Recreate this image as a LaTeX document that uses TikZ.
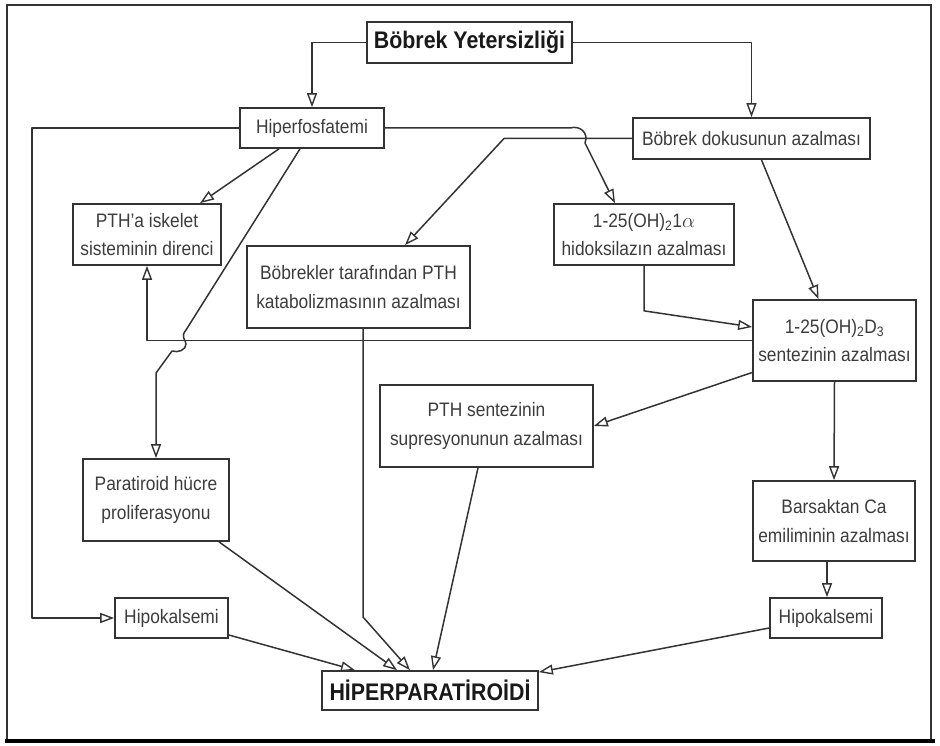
\documentclass[tikz,border=0pt]{standalone}
\usepackage{fontspec}
\setmainfont{Liberation Sans}[FakeStretch=0.89]
\usetikzlibrary{arrows.meta}
\definecolor{ln}{HTML}{333333}
\definecolor{tx}{HTML}{3C3C3C}
\begin{document}
\begin{tikzpicture}[x=1pt,y=-1pt,
  box/.style={draw=ln, line width=1.7pt, inner sep=0pt, align=center,
    font=\fontsize{19.5}{28.5}\selectfont, text=tx},
  bbox/.style={box, font=\fontsize{24}{28}\selectfont\bfseries, text=black!90},
  sz/.style 2 args={minimum width=#1, minimum height=#2},
  con/.style={draw=ln, line width=1.5pt, line join=round,
    -{Triangle[open,length=14pt,width=10pt,line width=1.4pt]}},
  ]
\useasboundingbox (0,0) rectangle (940,746);
\draw[draw=ln, line width=1.5pt] (7,5) rectangle (931,740);
\draw[black, line width=4pt] (5,741) -- (935,741);

\node[bbox, sz={205pt}{41pt}] (by) at (469.5,42.5) {Böbrek Yetersizliği};
\node[box, sz={144pt}{40pt}] (hf) at (312,128) {Hiperfosfatemi};
\node[box, sz={237pt}{41pt}] (bd) at (751.5,138.5) {Böbrek dokusunun azalması};
\node[box, sz={148pt}{61pt}] (pi) at (147,234.5) {PTH'a iskelet\\sisteminin direnci};
\node[box, sz={223pt}{82pt}] (bt) at (358.5,287) {Böbrekler tarafından PTH\\katabolizmasının azalması};
\node[box, sz={180pt}{61pt}] (hk) at (644,234.5) {1-25(OH)\textsubscript{2}1$\alpha$\\hidoksilazın azalması};
\node[box, sz={163pt}{81pt}] (d3) at (834.5,340.5) {1-25(OH)\textsubscript{2}D\textsubscript{3}\\sentezinin azalması};
\node[box, sz={213pt}{82pt}] (ps) at (486.5,426) {PTH sentezinin\\supresyonunun azalması};
\node[box, sz={146pt}{82pt}] (pc) at (156,500) {Paratiroid hücre\\proliferasyonu};
\node[box, sz={162pt}{80pt}] (bc) at (834,521) {Barsaktan Ca\\emiliminin azalması};
\node[box, sz={113pt}{40pt}] (hl) at (171.5,618) {Hipokalsemi};
\node[box, sz={112pt}{40pt}] (hr) at (826,618) {Hipokalsemi};
\node[bbox, sz={216pt}{39pt}] (hp) at (430,690.5) {HİPERPARATİROİDİ};

\coordinate (lx) at (32,0);
\draw[con] (by.west) -| (hf.north);
\draw[con] (by.east) -| (bd.north);
\draw[con] (hf.west) -- (hf.west -| lx) |- (hl.west);
\draw[con] (hf.east) -- (570,128) .. controls (580,125) and (589,133) .. (585,143) -- ([xshift=-29pt]hk.north);
\draw[con] ([xshift=-33pt]hf.south) -- ([xshift=53pt]pi.north);
\draw[con] ([xshift=-12pt]hf.south) -- (186,330) .. controls (180,337) and (186,340) .. (186,344)
   .. controls (186,350) and (178,353) .. (172,351) -- (156,373) -- (pc.north);
\draw[con] (d3.west) -| (pi.south);
\draw[con] (hk.south) -- ++(0,45) -- ([yshift=13.5pt]d3.west);
\draw[con] ([xshift=10pt]bd.south) -- ([xshift=-16pt]d3.north);
\draw[con] (bd.west) -- (504,138.5) -- ([xshift=46.5pt]bt.north);
\draw[con] ([yshift=-32pt]d3.west) -- (ps.east);
\draw[con] (d3.south) -- (bc.north);
\draw[con] ([xshift=-7pt]bc.south) -- ([xshift=1pt]hr.north);
\draw[con] ([yshift=-10pt]hr.west) -- ([yshift=-2pt]hp.north east);
\draw[con] ([yshift=-17pt]hl.east) -- ([xshift=-75pt]hp.north);
\draw[con] ([xshift=63pt]pc.south) -- ([xshift=-33pt]hp.north);
\draw[con] ([xshift=4.5pt]bt.south) -- (363,617) -- ([xshift=-20pt]hp.north);
\draw[con] ([xshift=-8.5pt]ps.south) -- ([xshift=3pt]hp.north);
\end{tikzpicture}
\end{document}
